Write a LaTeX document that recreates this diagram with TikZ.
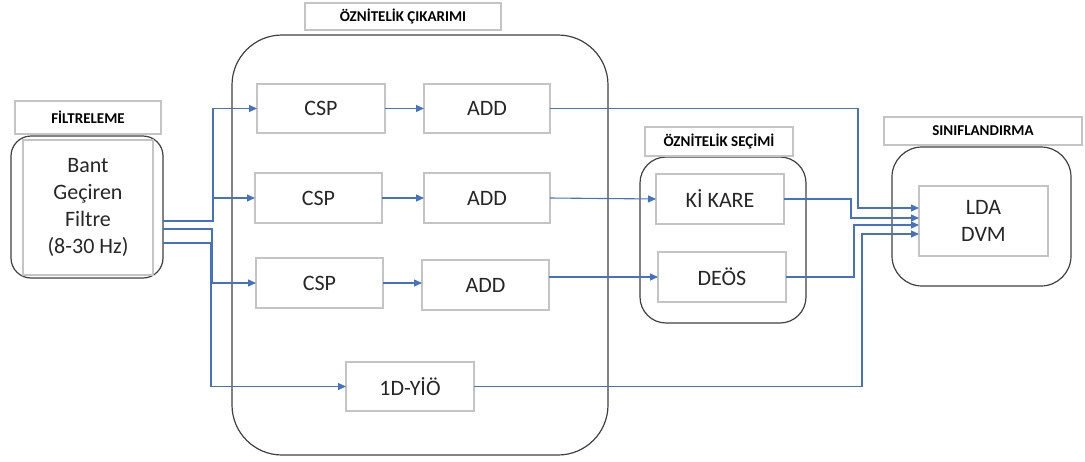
\documentclass[tikz,border=0pt]{standalone}
\usepackage{fontspec}
\setmainfont{Carlito}
\usetikzlibrary{arrows.meta}
\definecolor{conblue}{HTML}{4472C4}
\definecolor{boxgray}{HTML}{C4C4C4}
\definecolor{rdark}{HTML}{404040}
\definecolor{txt}{HTML}{262626}
\tikzset{
  gbox/.style={draw=boxgray, line width=1.1pt, inner sep=0pt, outer sep=0pt, text=txt,
    font=\fontsize{22}{27}\selectfont, align=center},
  tbox/.style={draw=boxgray, line width=1.1pt, inner sep=0pt, outer sep=0pt,
    font=\bfseries\fontsize{15}{17}\selectfont},
  rbox/.style={draw=rdark, line width=1.2pt, inner sep=0pt, outer sep=0pt},
  conn/.style={draw=conblue, line width=1.1pt, -{Triangle[length=8pt,width=7pt]}},
}
\begin{document}
\begin{tikzpicture}[x=1pt,y=-1pt]
\useasboundingbox (0,0) rectangle (1085,461);
% rounded group boxes
\node[rbox, minimum width=152pt, minimum height=142pt, rounded corners=20pt] (filtbg) at (87,207) {};
\node[rbox, minimum width=376pt, minimum height=420pt, rounded corners=50pt] (extbg) at (420,245) {};
\node[rbox, minimum width=166pt, minimum height=166pt, rounded corners=26pt] (selbg) at (723,240) {};
\node[rbox, minimum width=179pt, minimum height=139pt, rounded corners=30pt] (clsbg) at (981.5,216.5) {};
% titles
\node[tbox, minimum width=146pt, minimum height=33pt] (tfilt) at (88,117.5) {FİLTRELEME};
\node[tbox, minimum width=196pt, minimum height=27pt] (text) at (403,16.5) {ÖZNİTELİK ÇIKARIMI};
\node[tbox, minimum width=148pt, minimum height=29pt] (tsel) at (719,141.5) {ÖZNİTELİK SEÇİMİ};
\node[tbox, minimum width=198pt, minimum height=28pt] (tcls) at (983,131) {SINIFLANDIRMA};
% inner boxes
\node[gbox, minimum width=130pt, minimum height=135pt] (filt) at (88,207.5) {Bant\\Geçiren\\Filtre\\(8-30 Hz)};
\node[gbox, minimum width=128pt, minimum height=49pt] (csp1) at (321,108.5) {CSP};
\node[gbox, minimum width=126pt, minimum height=49pt] (add1) at (487,108.5) {ADD};
\node[gbox, minimum width=127pt, minimum height=50pt] (csp2) at (318.5,198) {CSP};
\node[gbox, minimum width=126pt, minimum height=50pt] (add2) at (487,198) {ADD};
\node[gbox, minimum width=127pt, minimum height=50pt] (csp3) at (319.5,283) {CSP};
\node[gbox, minimum width=127pt, minimum height=50pt] (add3) at (485.5,285) {ADD};
\node[gbox, minimum width=128pt, minimum height=49pt] (yio) at (410,386.5) {1D-YİÖ};
\node[gbox, minimum width=128pt, minimum height=50pt] (kare) at (720,199) {Kİ KARE};
\node[gbox, minimum width=128pt, minimum height=50pt] (deos) at (722,277) {DEÖS};
\node[gbox, minimum width=129pt, minimum height=70pt] (lda) at (983.5,221) {LDA\\DVM};
% connectors
\draw[conn] ([yshift=-14pt]filtbg.east) -- ++(50,0) |- (csp1.west);
\draw[conn] ([xshift=-42pt]csp2.west) -- (csp2.west);
\draw[conn] ([yshift=-22pt]filtbg.east) -- ++(49,0) |- (csp3.west);
\draw[conn] ([yshift=-36pt]filtbg.east) -- ++(48,0) |- (yio.west);
\draw[conn] (csp1.east) -- (add1.west);
\draw[conn] (csp2.east) -- (add2.west);
\draw[conn] (csp3.east) -- (csp3.east -| add3.west);
\draw[conn] (add1.east) -- ++(308,0) |- ([yshift=13pt]lda.west);
\draw[conn] (add2.east) -- (kare.west);
\draw[conn] (deos.west -| add3.east) -- (deos.west);
\draw[conn] (kare.east) -- ++(67,0) |- ([yshift=3pt]lda.west);
\draw[conn] (deos.east) -- ++(68,0) |- ([yshift=-4pt]lda.west);
\draw[conn] (yio.east) -- ++(388,0) |- ([yshift=-13pt]lda.west);
\end{tikzpicture}
\end{document}
